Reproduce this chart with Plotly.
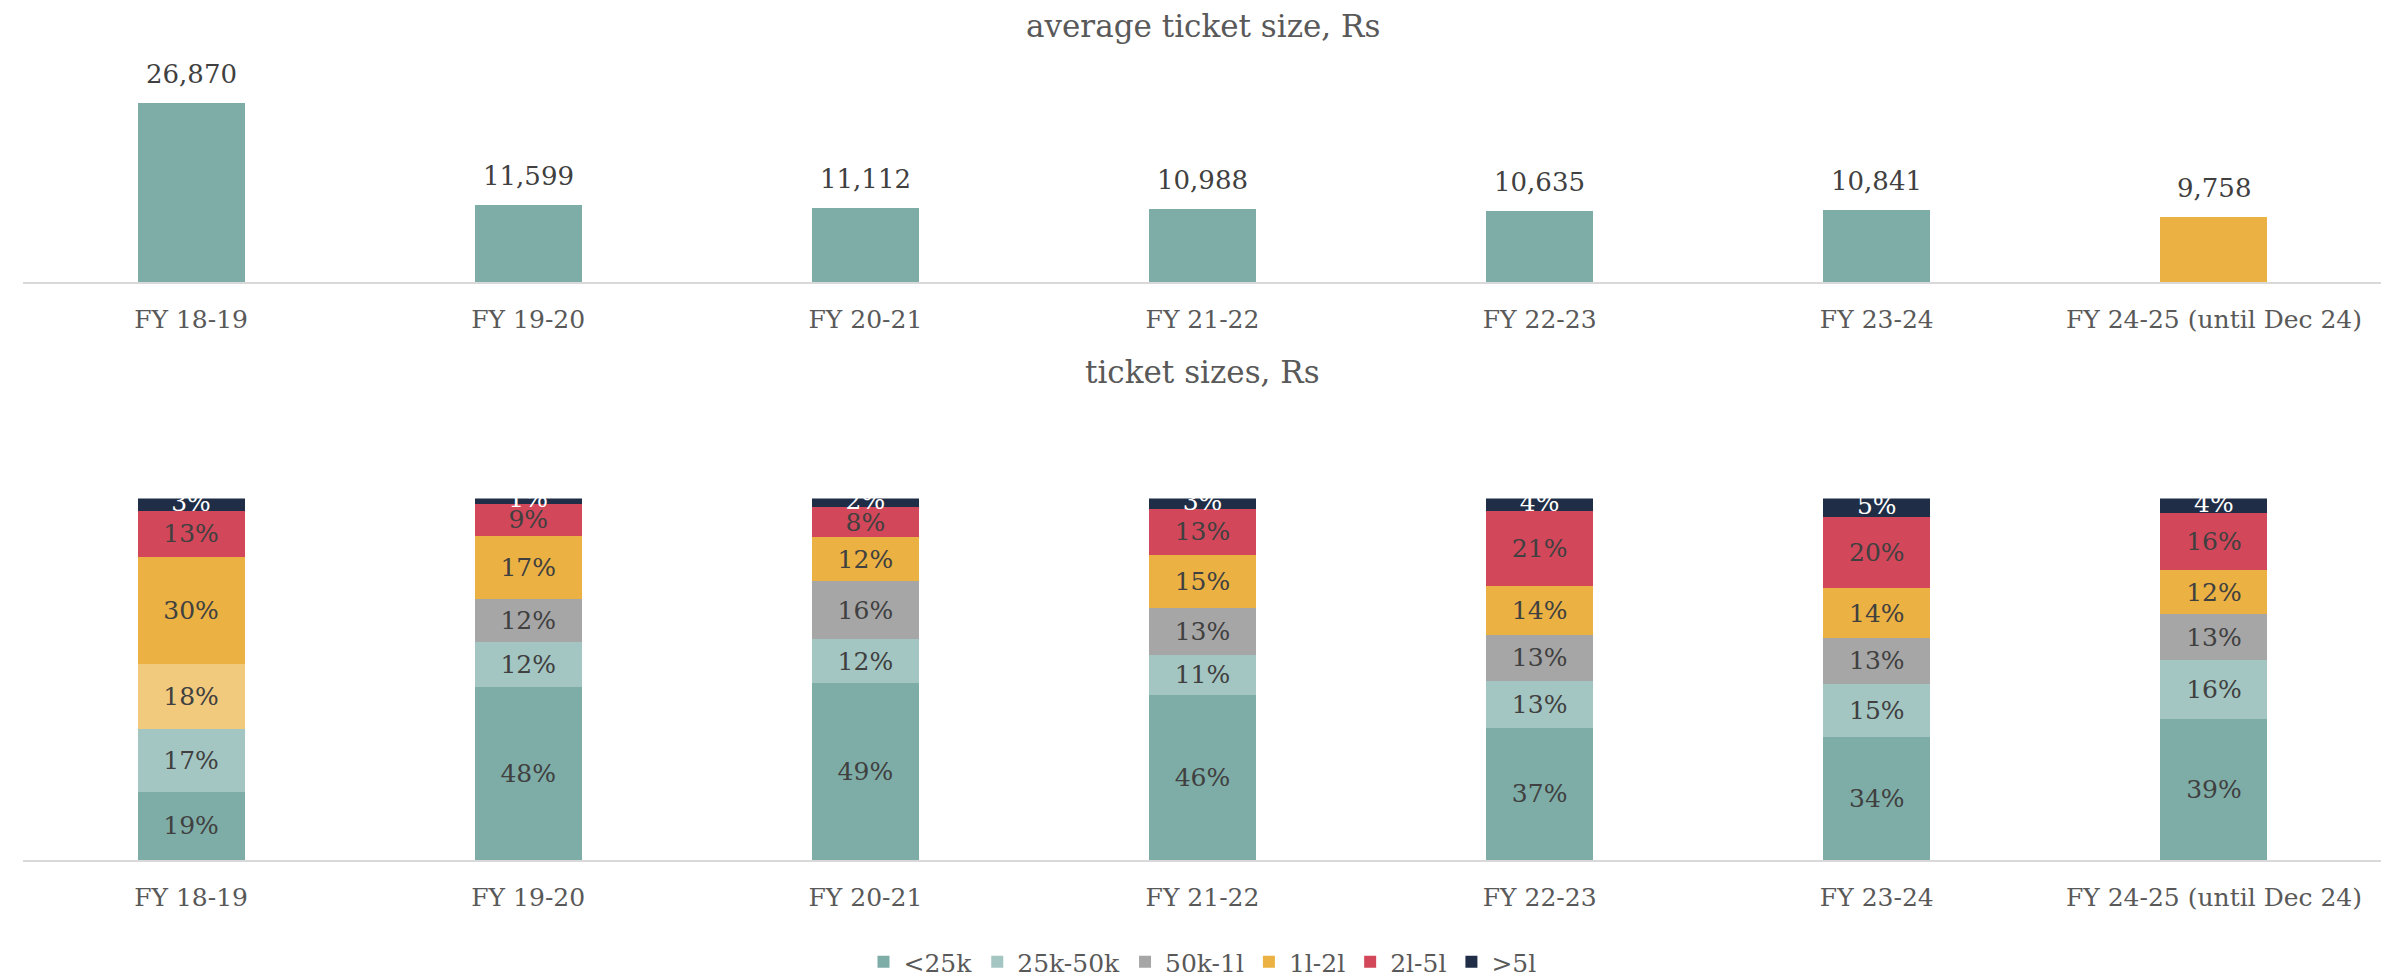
import plotly.graph_objects as go

# ---------------- data ----------------
years = ["FY 18-19", "FY 19-20", "FY 20-21", "FY 21-22", "FY 22-23", "FY 23-24",
         "FY 24-25 (until Dec 24)"]
avg_ticket = [26870, 11599, 11112, 10988, 10635, 10841, 9758]

bands = ["<25k", "25k-50k", "50k-1l", "1l-2l", "2l-5l", ">5l"]
share_lt25k = [18.9, 47.9, 49.0, 45.6, 36.6, 34.1, 39.1]
share_25_50k = [17.3, 12.4, 12.1, 11.2, 13.0, 14.6, 16.1]
share_50k_1l = [17.9, 12.0, 16.1, 12.9, 12.6, 12.7, 12.8]
share_1_2l = [29.8, 17.4, 12.1, 14.6, 13.6, 13.8, 12.2]
share_2_5l = [12.7, 8.9, 8.3, 12.9, 20.6, 19.7, 15.7]
share_gt5l = [3.4, 1.4, 2.4, 2.8, 3.6, 5.1, 4.1]

highlight_year = "FY 18-19"      # 50k-1l segment drawn in light amber
latest_year = "FY 24-25 (until Dec 24)"

# ---------------- styles ----------------
FONT = "DejaVu Serif"
TXT = "#595959"
LBL = "#404040"
band_colors = ["#7EADA7", "#A4C6C2", "#A6A6A6", "#EBB142", "#D2475A", "#1F2D47"]
highlight_color = "#F2CA7E"

W, H = 2389, 977
def py(px):  # pixel-from-top -> paper fraction
    return 1 - px / H

fig = go.Figure()

# top chart
avg_colors = ["#EBB142" if y == latest_year else "#7EADA7" for y in years]
fig.add_trace(go.Bar(x=years, y=avg_ticket, marker=dict(color=avg_colors, line=dict(width=0)),
                     xaxis="x", yaxis="y", showlegend=False, hoverinfo="x+y"))
for yr, v in zip(years, avg_ticket):
    fig.add_annotation(x=yr, y=v, xref="x", yref="y", text=f"{v:,}", showarrow=False,
                       yanchor="middle", yshift=29, font=dict(family=FONT, size=26, color=LBL))

# bottom chart (stacked)
def seg(vals, name, col, tcol, show=True, labelled=True):
    return go.Bar(x=years, y=vals, name=name, showlegend=show,
                  marker=dict(color=col, line=dict(width=0)),
                  xaxis="x2", yaxis="y2",
                  texttemplate="%{y:.0f}%" if labelled else None,
                  textposition="inside" if labelled else "none",
                  insidetextanchor="middle", textangle=0, constraintext="none",
                  insidetextfont=dict(family=FONT, size=25, color=tcol),
                  cliponaxis=False)

series = [share_lt25k, share_25_50k, share_50k_1l, share_1_2l, share_2_5l, share_gt5l]
for name, vals, col in zip(bands, series, band_colors):
    if name == "50k-1l":
        main = [0 if yr == highlight_year else v for yr, v in zip(years, vals)]
        hi = [v if yr == highlight_year else 0 for yr, v in zip(years, vals)]
        fig.add_trace(seg(main, name, col, LBL))
        fig.add_trace(seg(hi, name, highlight_color, LBL, show=False))
    elif name == ">5l":
        fig.add_trace(seg(vals, name, col, "white", labelled=False))
    else:
        fig.add_trace(seg(vals, name, col, LBL))

# white labels of the thin top (>5l) segments, centred on each segment
totals = [sum(s[i] for s in series) for i in range(len(years))]
fig.add_trace(go.Scatter(x=years, y=[t - v / 2 for t, v in zip(totals, share_gt5l)],
                         text=[f"{round(v)}%" for v in share_gt5l], mode="text",
                         textposition="middle center",
                         textfont=dict(family=FONT, size=25, color="white"),
                         xaxis="x2", yaxis="y2", showlegend=False, cliponaxis=False,
                         hoverinfo="skip"))

xdom = [14.5 / W, 2374.5 / W]
xcommon = dict(type="category", showline=True, linecolor="#D9D9D9", linewidth=2,
               ticks="", showgrid=False, zeroline=False, ticklabelstandoff=14,
               tickfont=dict(family=FONT, size=25, color=TXT), fixedrange=True)

fig.update_layout(
    width=W, height=H,
    margin=dict(l=0, r=0, t=0, b=0),
    paper_bgcolor="white", plot_bgcolor="white",
    barmode="stack", bargap=0.683,
    font=dict(family=FONT, color=TXT),
    uniformtext=dict(minsize=25, mode="show"),
    xaxis=dict(domain=xdom, anchor="y", **xcommon),
    yaxis=dict(domain=[py(277), py(50)], range=[0, 33600], visible=False),
    xaxis2=dict(domain=xdom, anchor="y2", **xcommon),
    yaxis2=dict(domain=[py(860), py(495)], range=[0, 100], visible=False),
    legend=dict(orientation="h", x=0.5, xanchor="center", y=py(963), yanchor="middle",
                font=dict(family=FONT, size=25, color=TXT), traceorder="normal"),
    annotations=list(fig.layout.annotations) + [
        dict(text="average ticket size, Rs", x=0.5, y=py(18), xref="paper", yref="paper",
             showarrow=False, yanchor="middle", font=dict(family=FONT, size=31, color=TXT)),
        dict(text="ticket sizes, Rs", x=0.5, y=py(367), xref="paper", yref="paper",
             showarrow=False, yanchor="middle", font=dict(family=FONT, size=31, color=TXT)),
    ],
)

fig.write_html("out.html")
